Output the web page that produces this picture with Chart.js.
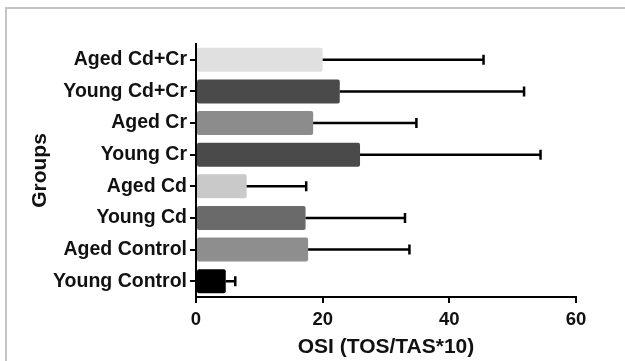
<!DOCTYPE html>
<html>
<head>
<meta charset="utf-8">
<script src="https://cdn.jsdelivr.net/npm/chart.js@4"></script>
<style>
    html, body { margin: 0; padding: 0; background: #fff; }
    .wrap { position: relative; width: 625px; height: 361px; overflow: hidden; }
    .frame {
        position: absolute; left: 5px; top: 7px; right: -5px; bottom: -5px;
        border-top: 2px solid #c4c4c4; border-left: 2px solid #c4c4c4;
    }
    canvas { position: absolute; left: 0; top: 0; }
</style>
</head>
<body>
<div class="wrap">
    <div class="frame"></div>
    <canvas id="osiChart" width="625" height="361"></canvas>
</div>
<script>
// Groups, top to bottom as in the figure
const groups = ['Aged Cd+Cr', 'Young Cd+Cr', 'Aged Cr', 'Young Cr', 'Aged Cd', 'Young Cd', 'Aged Control', 'Young Control'];
// Mean OSI values
const osiMeans = [20.0, 22.7, 18.5, 25.9, 8.0, 17.3, 17.7, 4.7];
// Upper error (SD)
const osiErrors = [25.4, 29.1, 16.3, 28.5, 9.4, 15.7, 16.0, 1.5];
const barColors = ['#e0e0e0', '#4a4a4a', '#8c8c8c', '#4a4a4a', '#c9c9c9', '#6a6a6a', '#8e8e8e', '#000000'];
const xTicks = [0, 20, 40, 60];

const fontFamily = '"Liberation Sans", Arial, sans-serif';

// Error bars drawn over the bars
const errorBars = {
    id: 'errorBars',
    afterDatasetsDraw(chart) {
        const ctx = chart.ctx;
        const xs = chart.scales.x;
        const meta = chart.getDatasetMeta(0);
        ctx.save();
        ctx.strokeStyle = '#000';
        ctx.lineWidth = 2.5;
        meta.data.forEach((bar, i) => {
            const x0 = xs.getPixelForValue(osiMeans[i]);
            const x1 = xs.getPixelForValue(osiMeans[i] + osiErrors[i]);
            const y = bar.y;
            ctx.beginPath();
            ctx.moveTo(x0, y);
            ctx.lineTo(x1, y);
            ctx.moveTo(x1, y - 5);
            ctx.lineTo(x1, y + 5);
            ctx.stroke();
        });
        ctx.restore();
    }
};

new Chart(document.getElementById('osiChart'), {
    type: 'bar',
    data: {
        labels: groups,
        datasets: [{
            data: osiMeans,
            backgroundColor: barColors,
            borderRadius: 2,
            borderSkipped: false,
            categoryPercentage: 1,
            barPercentage: 0.76
        }]
    },
    options: {
        indexAxis: 'y',
        responsive: false,
        animation: false,
        devicePixelRatio: 1,
        layout: { padding: { left: 0, top: 44, right: 49, bottom: 0 } },
        plugins: {
            legend: { display: false },
            tooltip: { enabled: false }
        },
        scales: {
            x: {
                min: 0,
                max: 60,
                afterBuildTicks: (scale) => {
                    scale.ticks = xTicks.map(v => ({ value: v }));
                },
                afterFit: (scale) => { scale.height = 64; },
                grid: { drawOnChartArea: false, drawTicks: true, tickLength: 6, color: '#000', lineWidth: 2 },
                border: { color: '#000', width: 2 },
                ticks: {
                    color: '#111',
                    padding: 6,
                    font: { family: fontFamily, size: 18.5, weight: 'bold' }
                },
                title: {
                    display: true,
                    text: 'OSI (TOS/TAS*10)',
                    color: '#111',
                    padding: { top: 0, bottom: 1 },
                    font: { family: fontFamily, size: 21, weight: 'bold' }
                }
            },
            y: {
                afterFit: (scale) => { scale.width = 196; },
                grid: { offset: false, drawOnChartArea: false, drawTicks: true, tickLength: 6, color: '#000', lineWidth: 2 },
                border: { color: '#000', width: 2 },
                ticks: {
                    color: '#111',
                    padding: 3,
                    font: { family: fontFamily, size: 19.5, weight: 'bold' }
                },
                title: {
                    display: true,
                    text: 'Groups',
                    color: '#111',
                    padding: { top: 28, bottom: 0 },
                    font: { family: fontFamily, size: 21, weight: 'bold' }
                }
            }
        }
    },
    plugins: [errorBars]
});
</script>
</body>
</html>
